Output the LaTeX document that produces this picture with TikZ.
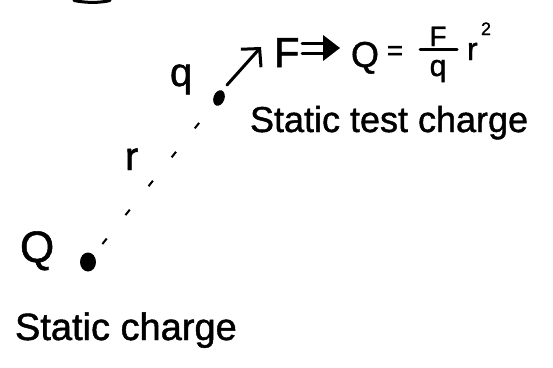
\documentclass[tikz,border=0pt]{standalone}
\usepackage{fontspec}
\setmainfont{Liberation Sans}[BoldFont=Liberation Sans, BoldFeatures={FakeBold=1.2}]
\usetikzlibrary{arrows.meta,shapes.geometric}
\tikzset{
  lbl/.style={inner sep=0pt, outer sep=0pt, anchor=base west},
  dotnode/.style={ellipse, fill=black, draw=none, inner sep=0pt},
  ink/.style={line width=3pt, line cap=round, line join=round},
  dashedlink/.style={line width=2pt, dash pattern=on 7pt off 30pt, dash phase=23pt},
}
\begin{document}
\begin{tikzpicture}[x=1pt,y=-1pt,every node/.style={font=\bfseries}]
\useasboundingbox (0,0) rectangle (553,367);
% cut-off fragment at top
\draw[ink] (74,0.5) .. controls (86,3) and (100,3) .. (110,0.5);
% charges
\node[dotnode, minimum width=16pt, minimum height=19pt] (Qd) at (88,262) {};
\node[dotnode, minimum width=11pt, minimum height=16pt, rotate=-20] (qd) at (219,98) {};
% labels
\node[lbl, font=\bfseries\fontsize{44}{50}\selectfont] (Ql) at (20,262) {Q};
\node[lbl, font=\bfseries\fontsize{40}{46}\selectfont] (ql) at (170,86) {q};
\node[lbl, font=\bfseries\fontsize{40}{46}\selectfont] (rl) at (125,170) {r};
\node[lbl, font=\bfseries\fontsize{38}{44}\selectfont] (sc) at (15,340) {Static charge};
\node[lbl, font=\bfseries\fontsize{36}{42}\selectfont] (stc) at (250,132) {Static test charge};
% dashed distance line
\draw[dashedlink] (Qd) -- (qd);
% force arrow
\coordinate (at) at (227,85);
\coordinate (ah) at (261,47);
\draw[ink, -{Straight Barb[length=13pt, width=27pt, line width=3pt]}] (at) -- (ah);
\node[lbl, font=\bfseries\fontsize{42}{48}\selectfont] (F) at (274,67) {F};
% implies arrow
\draw[ink] (302,43) -- (326,43);
\draw[ink] (302,53) -- (326,53);
\fill (323,35) -- (340,48) -- (323,61) -- cycle;
% equation
\node[lbl, font=\bfseries\fontsize{36}{42}\selectfont] (Qe) at (351,67) {Q};
\node[inner sep=0pt, font=\bfseries\fontsize{28}{32}\selectfont] (eq) at (395,53) {=};
\node[inner sep=0pt, anchor=base, font=\bfseries\fontsize{28}{32}\selectfont] (Fn) at (438,46) {F};
\coordinate (b1) at (420,49);
\coordinate (b2) at (457,49);
\draw[ink] (b1) -- (b2);
\node[inner sep=0pt, anchor=base, font=\bfseries\fontsize{30}{34}\selectfont] (qn) at (438,76) {q};
\node[lbl, font=\bfseries\fontsize{32}{36}\selectfont] (re) at (467,60) {r};
\node[lbl, font=\bfseries\fontsize{18}{22}\selectfont] (two) at (481,35) {2};
\end{tikzpicture}
\end{document}
